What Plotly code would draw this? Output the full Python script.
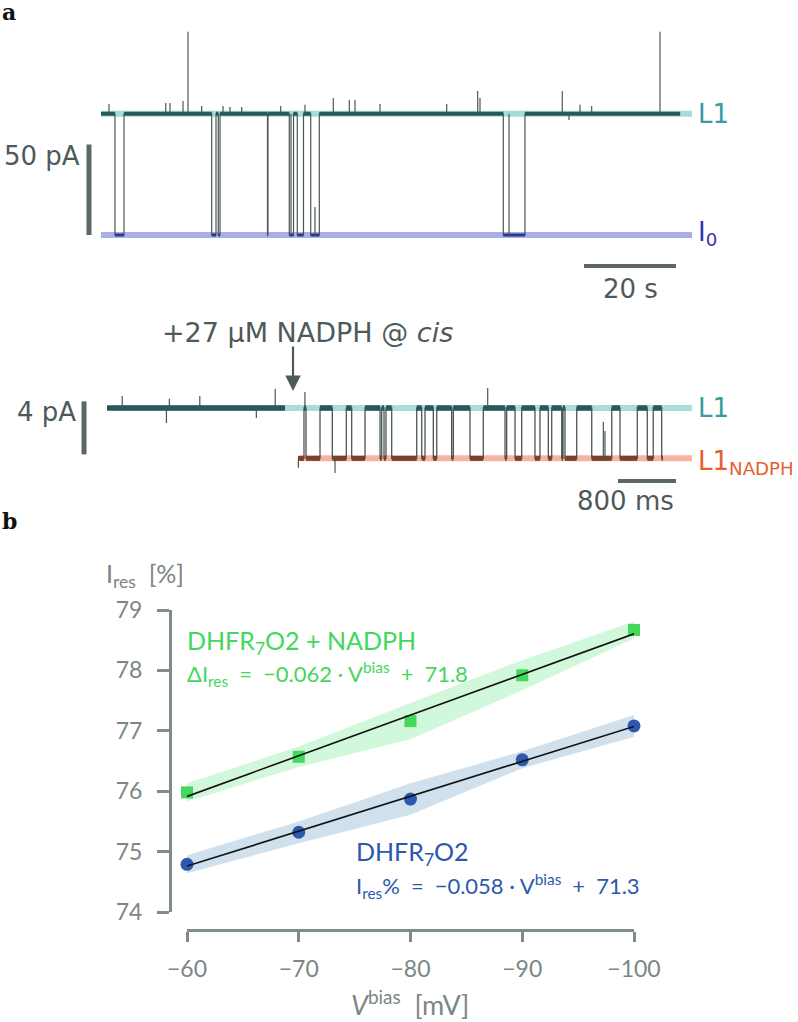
import numpy as np
import plotly.graph_objects as go

W, H = 798, 1022

# ================= DATA =================
# ---- panel a, upper trace (time in s, current in pA) ----
top_L1 = -203.0
top_I0 = -270.0
top_t_start = 0.0
top_t_end = 125.9
top_I0_start = [3.04, 24.07, 25.50, 36.20, 40.93, 42.67, 45.59, 87.46]
top_I0_end = [5.00, 25.00, 25.87, 36.30, 41.85, 44.02, 47.46, 92.17]
top_blip_t = [41.30, 46.52, 88.70]
top_blip_i = [-203.0, -254.5, -203.0]
top_spike_t = [1.74, 14.07, 15.00, 17.83, 18.91, 21.89, 26.52, 28.04, 30.59, 39.07,
               44.35, 50.50, 53.98, 55.22, 60.65, 75.15, 81.89, 82.39, 100.28, 101.74,
               104.13, 106.67, 121.52]
top_spike_i = [-197.6, -197.1, -197.1, -196.0, -157.7, -198.7, -198.7, -199.3, -199.3, -198.7,
               -198.1, -194.3, -195.4, -195.4, -197.6, -197.6, -190.4, -194.3, -190.4, -206.5,
               -198.1, -198.7, -157.7]
top_ref_t = [0.0, 128.5]
top_bar_t = [105.0, 125.0]      # 20 s
top_bar_i = [-270.0, -220.0]    # 50 pA

# ---- panel a, lower trace (time in s, current in pA) ----
bot_L1 = -203.0
bot_LN = -206.8
bot_pre_t = [0.0, 2.455]
bot_switch_t = [2.634, 2.717, 2.745, 2.938, 3.108, 3.301, 3.375, 3.559, 3.766, 3.789,
                3.821, 3.848, 3.927, 4.272, 4.341, 4.386, 4.501, 4.548, 4.754, 4.777,
                5.007, 5.190, 5.490, 5.513, 5.628, 5.720, 5.903, 5.972, 6.087, 6.134,
                6.272, 6.290, 6.317, 6.479, 6.686, 6.962, 7.076, 7.314, 7.452, 7.534,
                7.651]
bot_switch_lvl = ["N", "U", "N", "U", "N", "U", "N", "U", "N", "U",
                  "N", "U", "N", "U", "N", "U", "N", "U", "N", "U",
                  "N", "U", "N", "U", "N", "U", "N", "U", "N", "U",
                  "N", "U", "N", "U", "N", "U", "N", "U", "N", "U",
                  "N"]
bot_t_end = 7.669
bot_spike_t = [0.21, 0.86, 1.28, 2.32, 0.82, 2.06, 2.64, 2.73, 3.145, 5.251, 6.846, 6.869]
bot_spike_base = [-203.0, -203.0, -203.0, -203.0, -203.0, -203.0, -206.8, -203.0, -206.8, -203.0, -206.8, -206.8]
bot_spike_i = [-202.1, -202.3, -202.1, -201.57, -204.13, -203.75, -207.5, -201.79, -207.9, -201.49, -204.03, -204.74]
bot_ref_L1_t = [0.069, 8.07]
bot_ref_LN_t = [2.662, 8.07]
bot_bar_t = [7.048, 7.848]       # 800 ms
bot_bar_i = [-206.5, -202.5]     # 4 pA
nadph_t = 2.566

# ---- panel b ----
v_bias = [-60, -70, -80, -90, -100]
ires_apo = [74.79, 75.32, 75.87, 76.52, 77.08]
ires_apo_err = [0.15, 0.18, 0.26, 0.14, 0.18]
ires_nadph = [75.98, 76.57, 77.16, 77.92, 78.67]
ires_nadph_err = [0.15, 0.17, 0.30, 0.25, 0.14]
y_ticks = [74, 75, 76, 77, 78, 79]

# ================= STYLE =================
TXT = "#4e5a5a"
BAR = "#5c6868"
TRACE = "#4a5656"
C_L1_REF = "#a6ddd8"
C_I0_REF = "#aaaee6"
C_LN_REF = "#f6b3a4"
C_L1_BAND = "#27585b"
C_I0_BAND = "#2b3b8a"
C_LN_BAND = "#7a4030"
C_L1_TXT = "#3a9ba1"
C_I0_TXT = "#3535b0"
C_LN_TXT = "#e4602f"
AX = "#808b8b"
GREEN = "#44d75c"
BLUE = "#2c59ad"
FA = "DejaVu Sans"
FB = "Lato"

fig = go.Figure()

def line(x, y, color, width, xa="x", ya="y"):
    fig.add_trace(go.Scatter(x=x, y=y, mode="lines", line=dict(color=color, width=width),
                             xaxis=xa, yaxis=ya, hoverinfo="skip", showlegend=False))

# ---------- top trace ----------
line(top_ref_t, [top_L1, top_L1], C_L1_REF, 6)
line(top_ref_t, [top_I0, top_I0], C_I0_REF, 6)

seg_t = [top_t_start]
seg_l = [top_L1]
for s, e in zip(top_I0_start, top_I0_end):
    seg_t += [s, e]
    seg_l += [top_I0, top_L1]
bx = {top_L1: [], top_I0: []}
for i in range(len(seg_t)):
    t0 = seg_t[i]
    t1 = seg_t[i + 1] if i + 1 < len(seg_t) else top_t_end
    bx[seg_l[i]] += [t0, t1, None]
sx, sy = [seg_t[0]], [seg_l[0]]
for i in range(1, len(seg_t)):
    sx += [seg_t[i], seg_t[i]]
    sy += [seg_l[i - 1], seg_l[i]]
sx.append(top_t_end); sy.append(seg_l[-1])
line(sx, sy, TRACE, 1.2)
line(bx[top_L1], [top_L1 if v is not None else None for v in bx[top_L1]], C_L1_BAND, 4)
line(bx[top_I0], [top_I0 if v is not None else None for v in bx[top_I0]], C_I0_BAND, 3)
kx, ky = [], []
for t, v in zip(top_spike_t, top_spike_i):
    kx += [t, t, None]; ky += [top_L1, v, None]
for t, v in zip(top_blip_t, top_blip_i):
    kx += [t, t, None]; ky += [top_I0, v, None]
line(kx, ky, TRACE, 1.2)
line(top_bar_t, [top_I0 - 17.1] * 2, BAR, 4)
line([-2.61, -2.61], top_bar_i, BAR, 5)

# ---------- bottom trace ----------
line(bot_ref_L1_t, [bot_L1, bot_L1], C_L1_REF, 6, "x2", "y2")
line(bot_ref_LN_t, [bot_LN, bot_LN], C_LN_REF, 6, "x2", "y2")
lv = {"U": bot_L1, "N": bot_LN}
bbx = {"U": [bot_pre_t[0], bot_pre_t[1], None], "N": []}
for i, (t, l) in enumerate(zip(bot_switch_t, bot_switch_lvl)):
    t1 = bot_switch_t[i + 1] if i + 1 < len(bot_switch_t) else bot_t_end
    bbx[l] += [t, t1, None]
sx, sy = [bot_pre_t[0], bot_pre_t[1], None, bot_switch_t[0]], [bot_L1, bot_L1, None, lv[bot_switch_lvl[0]]]
for i in range(1, len(bot_switch_t)):
    sx += [bot_switch_t[i], bot_switch_t[i]]
    sy += [lv[bot_switch_lvl[i - 1]], lv[bot_switch_lvl[i]]]
sx.append(bot_t_end); sy.append(lv[bot_switch_lvl[-1]])
line(sx, sy, TRACE, 1.3, "x2", "y2")
line(bbx["U"], [bot_L1 if v is not None else None for v in bbx["U"]], C_L1_BAND, 5.5, "x2", "y2")
line(bbx["N"], [bot_LN if v is not None else None for v in bbx["N"]], C_LN_BAND, 5, "x2", "y2")
kx, ky = [], []
for t, b, v in zip(bot_spike_t, bot_spike_base, bot_spike_i):
    kx += [t, t, None]; ky += [b, v, None]
line(kx, ky, TRACE, 1.2, "x2", "y2")
line(bot_bar_t, [bot_LN - 1.7] * 2, BAR, 4, "x2", "y2")
line([-0.317, -0.317], bot_bar_i, BAR, 5, "x2", "y2")

# ---------- panel b ----------
v = np.array(v_bias, float)
for vals, err, fillc, mc, sym, msz in [
    (ires_nadph, ires_nadph_err, "rgba(140,238,165,0.40)", GREEN, "square", 12),
    (ires_apo, ires_apo_err, "rgba(150,188,214,0.45)", BLUE, "circle", 13),
]:
    vals = np.array(vals); err = np.array(err)
    up, lo = vals + err, vals - err
    fig.add_trace(go.Scatter(x=list(v) + list(v[::-1]), y=list(up) + list(lo[::-1]),
                             fill="toself", fillcolor=fillc, line=dict(width=0),
                             mode="lines", xaxis="x3", yaxis="y3", hoverinfo="skip"))
    fig.add_trace(go.Scatter(x=v, y=vals, mode="markers", cliponaxis=False,
                             marker=dict(symbol=sym, size=msz, color=mc),
                             xaxis="x3", yaxis="y3"))
    k, b = np.polyfit(v, vals, 1)
    xf = np.array([v.min(), v.max()])
    fig.add_trace(go.Scatter(x=xf, y=k * xf + b, mode="lines", line=dict(color="#111111", width=1.6),
                             xaxis="x3", yaxis="y3", hoverinfo="skip"))

# ================= LAYOUT =================
def px(x): return x / W
def py(y): return 1 - y / H

tx = lambda p: (p - 101) / 4.6
ti = lambda q: -270 + (235 - q) / 1.81
bx_ = lambda p: (p - 107) / 72.5
bi = lambda q: -203 - (q - 408) / 13.25

hidden = dict(visible=False, showgrid=False, zeroline=False)
fig.update_layout(
    width=W, height=H, autosize=False,
    margin=dict(l=0, r=0, t=0, b=0, pad=0, autoexpand=False),
    paper_bgcolor="white", plot_bgcolor="white", showlegend=False,
    xaxis=dict(domain=[0, 1], range=[tx(0), tx(W)], anchor="y", **hidden),
    yaxis=dict(domain=[py(300), py(5)], range=[ti(300), ti(5)], anchor="x", **hidden),
    xaxis2=dict(domain=[0, 1], range=[bx_(0), bx_(W)], anchor="y2", **hidden),
    yaxis2=dict(domain=[py(525), py(310)], range=[bi(525), bi(310)], anchor="x2", **hidden),
    xaxis3=dict(domain=[px(187), px(634)], range=[-60, -100], anchor="free", position=py(930),
                showline=True, linecolor=AX, linewidth=3, ticks="outside", ticklen=10,
                tickwidth=3, tickcolor=AX, tickvals=v_bias, automargin=False,
                ticktext=[f"\u2212{abs(t)}" for t in v_bias], showgrid=False, zeroline=False,
                tickfont=dict(family=FB, size=23, color="#7c8686"), ticklabelstandoff=7),
    yaxis3=dict(domain=[py(912), py(610)], range=[74, 79], anchor="free", position=px(170),
                showline=True, linecolor=AX, linewidth=3, ticks="outside", ticklen=12,
                tickwidth=3, tickcolor=AX, tickvals=y_ticks, showgrid=False, zeroline=False,
                automargin=False,
                tickfont=dict(family=FB, size=23, color="#7c8686"), ticklabelstandoff=10),
)

ann = []
def A(text, x, y, xref="paper", yref="paper", size=26, color=TXT, xanchor="center",
      yanchor="middle", family=FA):
    ann.append(dict(text=text, x=x, y=y, xref=xref, yref=yref, showarrow=False,
                    font=dict(family=family, size=size, color=color),
                    xanchor=xanchor, yanchor=yanchor))

E = "\u2002"
A("<b>a</b>", px(0), py(12), size=22, color="#111111", xanchor="left", family="DejaVu Serif")
A("<b>b</b>", px(0), py(521), size=22, color="#111111", xanchor="left", family="DejaVu Serif")
A("L1", tx(696), top_L1, "x", "y", color=C_L1_TXT, xanchor="left")
A("I<sub>0</sub>", tx(696), top_I0 + 1, "x", "y", color=C_I0_TXT, xanchor="left")
A("50 pA", tx(82), ti(156), "x", "y", xanchor="right")
A("20 s", sum(top_bar_t) / 2, ti(289), "x", "y")
A("+27 \u03bcM NADPH @ <i>cis</i>", bx_(307), bi(332), "x2", "y2", size=27)
A("4 pA", bx_(78), bi(412), "x2", "y2", xanchor="right")
A("800 ms", bx_(625), bi(501), "x2", "y2")
A("L1", bx_(696), bot_L1, "x2", "y2", color=C_L1_TXT, xanchor="left")
A("L1<sub>NADPH</sub>", bx_(696), bot_LN - 0.3, "x2", "y2", color=C_LN_TXT, xanchor="left")
ann.append(dict(x=nadph_t, y=bi(391), xref="x2", yref="y2", ax=0, ay=-46, showarrow=True,
                arrowhead=2, arrowsize=1.4, arrowwidth=2.2, arrowcolor=TXT, text=""))
A("I<sub>res</sub>  [%]", px(104), py(575), size=25, color="#7c8686", xanchor="left", family=FB)
A("DHFR<sub>7</sub>O2 + NADPH", px(185), py(642), size=25, color=GREEN, xanchor="left", family=FB)
A(f"\u0394I<sub>res</sub>{E}={E}\u22120.062 \u00b7 V<sup>bias</sup>{E}+{E}71.8", px(185), py(674),
  size=22, color=GREEN, xanchor="left", family=FB)
A("DHFR<sub>7</sub>O2", px(354), py(853), size=25, color=BLUE, xanchor="left", family=FB)
A(f"I<sub>res</sub>%{E}={E}\u22120.058 \u00b7 V<sup>bias</sup>{E}+{E}71.3", px(354), py(886),
  size=22, color=BLUE, xanchor="left", family=FB)
A("<i>V</i><sup>bias</sup>  [mV]", px(410), py(1003), size=27, color="#7c8686", family=FB)
fig.update_layout(annotations=ann)

fig.write_html("out.html", config={"displayModeBar": False},
               post_script="document.body.style.margin='0';document.body.style.overflow='hidden';")
